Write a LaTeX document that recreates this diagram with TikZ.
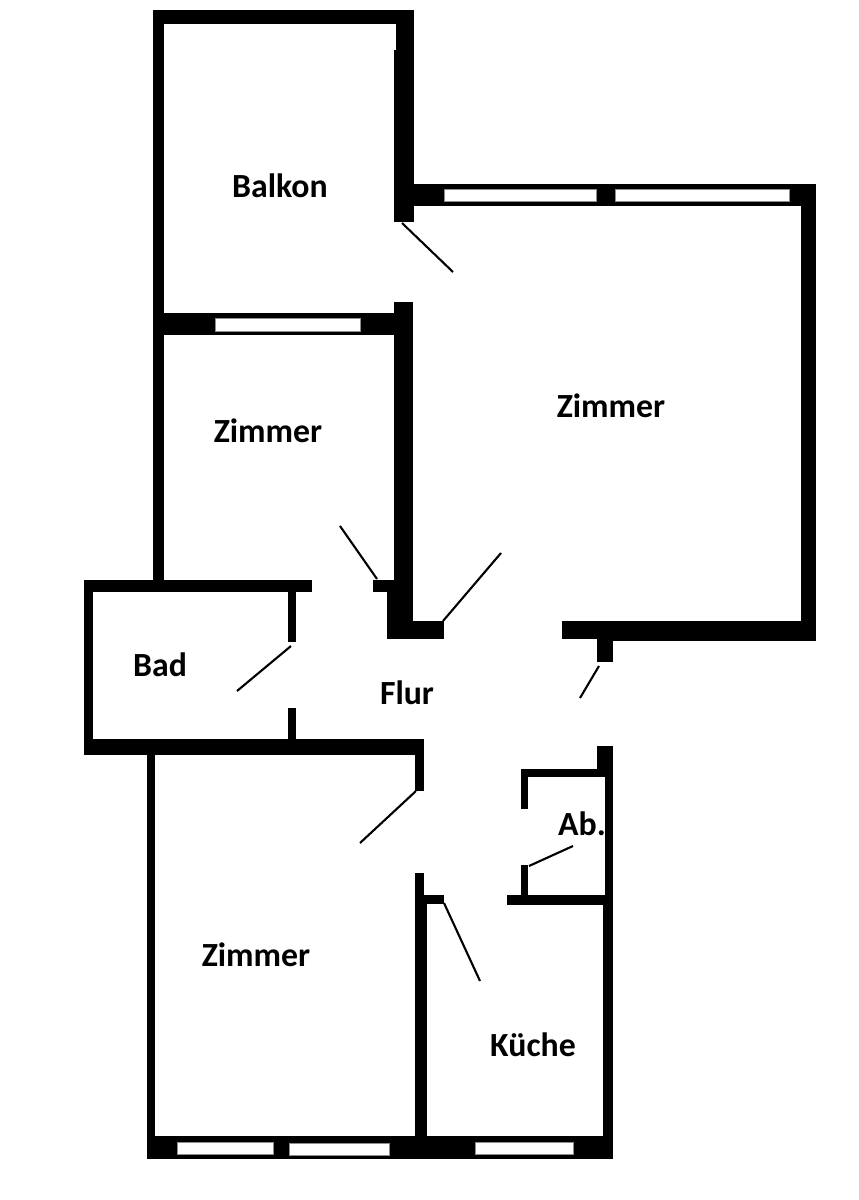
\documentclass[tikz,border=0pt]{standalone}
\usepackage{fontspec}
\setmainfont{Carlito}
\tikzset{
  wallpart/.style={fill=black},
  windowpane/.style={fill=white,draw=black!45,line width=0.5pt},
  doorleaf/.style={draw=black,line width=2.1pt},
  roomlabel/.style={font=\fontsize{33.8}{34}\selectfont\bfseries,anchor=base,inner sep=0pt,text=black}
}
\begin{document}
\begin{tikzpicture}[x=1pt,y=-1pt]
\useasboundingbox (0,0) rectangle (859,1200);
\fill[white] (0,0) rectangle (859,1200);
% upper left block
\fill[wallpart] (153,10) rectangle (414,24);
\fill[wallpart] (153,10) rectangle (164,592);
\fill[wallpart] (396,10) rectangle (414,60);
\fill[wallpart] (394,50) rectangle (414,222);
\fill[wallpart] (153,313) rectangle (413,335);
\fill[wallpart] (394,302) rectangle (413,621);
% large room
\fill[wallpart] (410,184) rectangle (816,206);
\fill[wallpart] (801,184) rectangle (816,641);
\fill[wallpart] (562,621) rectangle (816,639);
\fill[wallpart] (597,639) rectangle (816,641);
\fill[wallpart] (597,641) rectangle (613,662);
% corner by corridor
\fill[wallpart] (387,592) rectangle (413,639);
\fill[wallpart] (387,621) rectangle (444,639);
\fill[wallpart] (373,580) rectangle (395,592);
% bath
\fill[wallpart] (84,580) rectangle (312,592);
\fill[wallpart] (84,580) rectangle (93,755);
\fill[wallpart] (84,739) rectangle (424,755);
\fill[wallpart] (288,592) rectangle (296,642);
\fill[wallpart] (288,708) rectangle (296,739);
% lower left room
\fill[wallpart] (147,755) rectangle (155,1159);
\fill[wallpart] (415,755) rectangle (424,791);
\fill[wallpart] (415,873) rectangle (424,900);
\fill[wallpart] (415,895) rectangle (444,904);
\fill[wallpart] (415,900) rectangle (427,1140);
% bottom wall
\fill[wallpart] (147,1136) rectangle (613,1159);
% right lower wall and closet
\fill[wallpart] (597,746) rectangle (613,777);
\fill[wallpart] (605,777) rectangle (613,900);
\fill[wallpart] (603,895) rectangle (613,1140);
\fill[wallpart] (521,769) rectangle (605,777);
\fill[wallpart] (521,769) rectangle (528,809);
\fill[wallpart] (521,865) rectangle (528,895);
\fill[wallpart] (507,895) rectangle (605,905);
% windows
\filldraw[windowpane] (215,318) rectangle (360,331);
\filldraw[windowpane] (444,189) rectangle (596,201);
\filldraw[windowpane] (615,189) rectangle (789,201);
\filldraw[windowpane] (177,1142) rectangle (273,1154);
\filldraw[windowpane] (289,1143) rectangle (389,1155);
\filldraw[windowpane] (475,1142) rectangle (573,1154);
% door leaves
\coordinate (d1a) at (402,223); \coordinate (d1b) at (453,272);
\coordinate (d2a) at (377,579); \coordinate (d2b) at (340,526);
\coordinate (d3a) at (443,621); \coordinate (d3b) at (501,553);
\coordinate (d4a) at (291,646); \coordinate (d4b) at (237,691);
\coordinate (d5a) at (599,666); \coordinate (d5b) at (580,698);
\coordinate (d6a) at (416,791); \coordinate (d6b) at (360,843);
\coordinate (d7a) at (529,866); \coordinate (d7b) at (573,846);
\coordinate (d8a) at (444,903); \coordinate (d8b) at (480,981);
\draw[doorleaf] (d1a) -- (d1b);
\draw[doorleaf] (d2a) -- (d2b);
\draw[doorleaf] (d3a) -- (d3b);
\draw[doorleaf] (d4a) -- (d4b);
\draw[doorleaf] (d5a) -- (d5b);
\draw[doorleaf] (d6a) -- (d6b);
\draw[doorleaf] (d7a) -- (d7b);
\draw[doorleaf] (d8a) -- (d8b);
% labels
\node[roomlabel] (balkon) at (280,197) {Balkon};
\node[roomlabel] (zimmerA) at (611,417) {Zimmer};
\node[roomlabel] (zimmerB) at (268,442) {Zimmer};
\node[roomlabel] (bad) at (160,676) {Bad};
\node[roomlabel] (flur) at (407,704) {Flur};
\node[roomlabel] (zimmerC) at (256,966) {Zimmer};
\node[roomlabel] (kueche) at (533,1056) {Küche};
\node[roomlabel] (ab) at (582,835) {Ab.};
\end{tikzpicture}
\end{document}
